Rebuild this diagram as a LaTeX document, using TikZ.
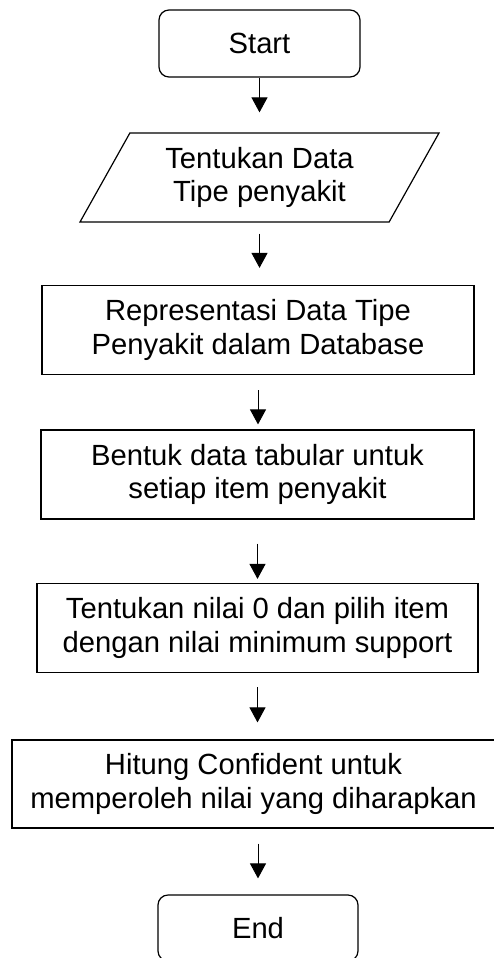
\documentclass[tikz,border=0pt]{standalone}
\usepackage{fontspec}
\setmainfont{Liberation Sans}
\usepackage{tikz}
\usetikzlibrary{shapes.geometric,arrows.meta}

\begin{document}
\begin{tikzpicture}[x=1pt,y=-1pt,>={Triangle[length=15pt,width=16pt]},
  every node/.style={font=\fontsize{29.2}{33.5}\selectfont,align=center,inner sep=0pt},
  terminal/.style={draw,line width=1.2pt,rounded corners=10pt,minimum width=201pt,minimum height=67pt},
  io/.style={draw,line width=1.2pt,trapezium,trapezium left angle=50.6,trapezium right angle=129.4,
    trapezium stretches body,minimum width=359pt,minimum height=89pt},
  process/.style={draw,line width=1.2pt,minimum height=89pt},
  flow/.style={->,line width=1pt}]
\useasboundingbox (0,0) rectangle (493,958);
\node[terminal] (start) at (259.5,43.5) {Start};
\node[io] (input) at (259.5,177.5) {Tentukan Data\\Tipe penyakit};
\node[process,minimum width=432pt] (repr) at (258,330) {Representasi Data Tipe\\Penyakit dalam Database};
\node[process,minimum width=433pt] (tabular) at (257.5,474.5) {Bentuk data tabular untuk\\setiap item penyakit};
\node[process,minimum width=441pt] (support) at (257.5,628) {Tentukan nilai 0 dan pilih item\\dengan nilai minimum support};
\node[process,minimum width=483pt,minimum height=88pt] (conf) at (253.5,784) {Hitung Confident untuk\\memperoleh nilai yang diharapkan};
\node[terminal,minimum width=200pt,minimum height=66pt] (end) at (258,928) {End};
\draw[flow,shorten >=20pt] (start.south) -- (start.south |- input.north);
\draw[flow,shorten <=11pt,shorten >=17pt] (input.south) -- (input.south |- repr.north);
\draw[flow,shorten <=15pt,shorten >=5pt] (repr.south) -- (repr.south |- tabular.north);
\draw[flow,shorten <=24pt,shorten >=4pt] (tabular.south) -- (tabular.south |- support.north);
\draw[flow,shorten <=14pt,shorten >=17pt] (support.south) -- (support.south |- conf.north);
\draw[flow,shorten <=15pt,shorten >=16pt] (conf.south -| end.north) -- (end.north);
\end{tikzpicture}
\end{document}
